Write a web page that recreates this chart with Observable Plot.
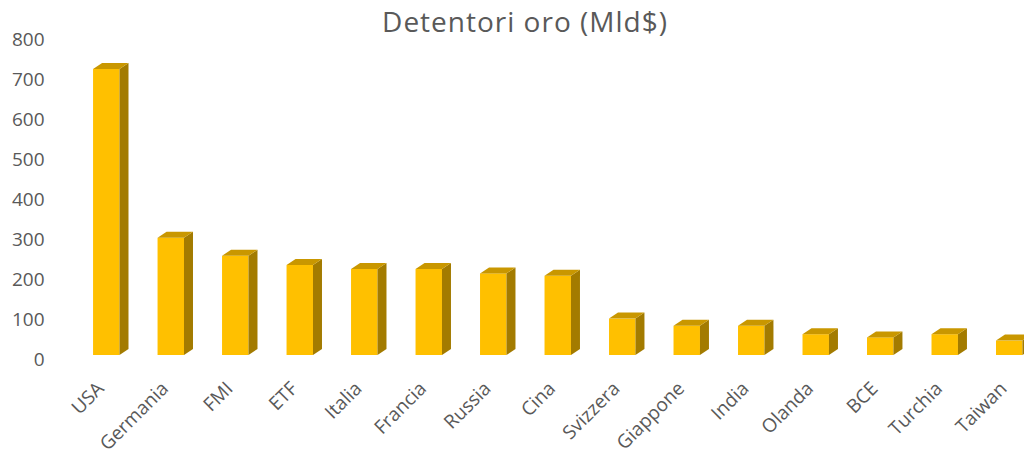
<!DOCTYPE html>
<html>
<head>
<meta charset="utf-8">
<script src="https://cdn.jsdelivr.net/npm/d3@7"></script>
<script src="https://cdn.jsdelivr.net/npm/@observablehq/plot@0.6"></script>
<style>
  html, body { margin: 0; padding: 0; background: #fff; overflow: hidden; width: 1024px; height: 456px; }
  #wrap { position: relative; width: 1024px; height: 456px; }
  #title { position: absolute; left: 0; width: 1050px; top: 5px; text-align: center;
           font-family: "Open Sans", sans-serif; font-size: 28px; letter-spacing: 1px; line-height: 32px; color: #595959; }
</style>
</head>
<body>
<div id="wrap">
  <div id="chart"></div>
  <div id="title">Detentori oro (Mld$)</div>
</div>
<script>
const categories = ["USA", "Germania", "FMI", "ETF", "Italia", "Francia", "Russia", "Cina",
                    "Svizzera", "Giappone", "India", "Olanda", "BCE", "Turchia", "Taiwan"];
const values = [715, 293, 248, 225, 215, 215, 204, 198, 91, 73, 73, 52, 44, 52, 36];
const yTicks = [0, 100, 200, 300, 400, 500, 600, 700, 800];

const data = categories.map((name, i) => ({name, value: values[i]}));

const FRONT = "#FFC000", TOP = "#C99700", SIDE = "#A37B00";
const DEPTH_X = 9, DEPTH_Y = 6;
const NS = "http://www.w3.org/2000/svg";

function faces(index, scales) {
  const x = scales.x, y = scales.y;
  const bw = typeof x.bandwidth === "function" ? x.bandwidth() : (x(categories[1]) - x(categories[0])) * 0.41;
  const g = document.createElementNS(NS, "g");
  for (const d of data) {
    const x0 = x(d.name), x1 = x0 + bw, yt = y(d.value), yb = y(0);
    const top = document.createElementNS(NS, "polygon");
    top.setAttribute("points", `${x0},${yt} ${x0 + DEPTH_X},${yt - DEPTH_Y} ${x1 + DEPTH_X},${yt - DEPTH_Y} ${x1},${yt}`);
    top.setAttribute("fill", TOP);
    const side = document.createElementNS(NS, "polygon");
    side.setAttribute("points", `${x1},${yt} ${x1 + DEPTH_X},${yt - DEPTH_Y} ${x1 + DEPTH_X},${yb - DEPTH_Y} ${x1},${yb}`);
    side.setAttribute("fill", SIDE);
    g.appendChild(side);
    g.appendChild(top);
  }
  return g;
}

const chart = Plot.plot({
  width: 1024,
  height: 456,
  marginLeft: 54,
  marginTop: 35,
  marginBottom: 101,
  marginRight: 0,
  style: {fontFamily: "Open Sans, sans-serif", background: "white", overflow: "hidden"},
  x: {domain: categories, range: [55, 1060.5], padding: 0.59, round: false, axis: null},
  y: {domain: [0, 800], range: [355, 35], axis: null},
  marks: [
    Plot.barY(data, {x: "name", y: "value", fill: FRONT}),
    faces,
    Plot.axisY(yTicks, {tickSize: 0, tickPadding: 10, dy: 4, fontSize: 19, fill: "#595959", tickFormat: d => String(d), label: null}),
    Plot.text(data, {x: "name", y: () => 0, text: "name", rotate: -45, textAnchor: "end",
                     dx: -6, dy: 30, fontSize: 19, fill: "#595959"})
  ]
});
document.getElementById("chart").appendChild(chart);
</script>
</body>
</html>
